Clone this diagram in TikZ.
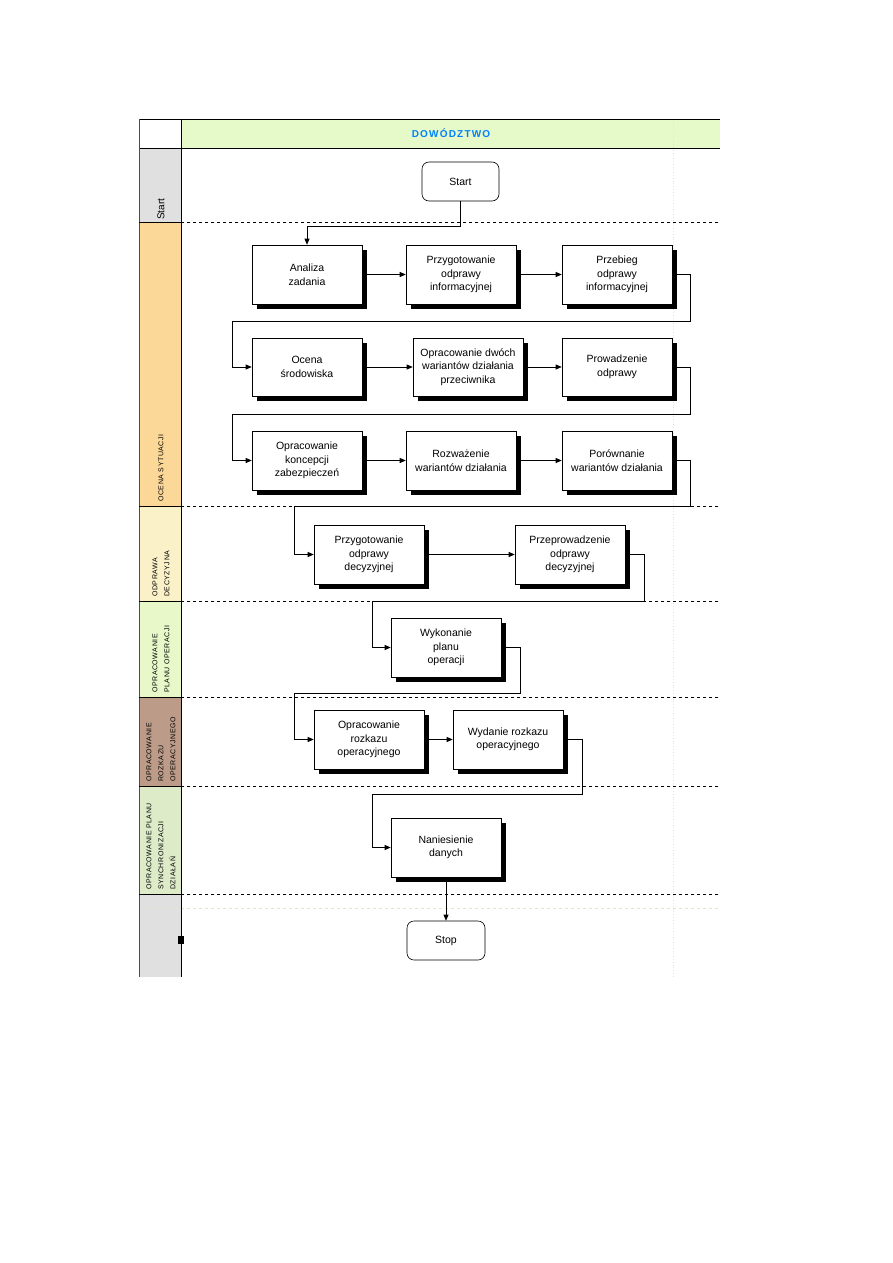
\documentclass[tikz,border=0pt]{standalone}
\usepackage{fontspec}
\setmainfont{Liberation Sans}
\usepackage{tikz}
\usetikzlibrary{calc,positioning,arrows.meta,shadows}

\definecolor{headgreen}{RGB}{230,249,200}
\definecolor{headblue}{RGB}{0,128,255}
\definecolor{lanegray}{RGB}{224,224,224}
\definecolor{laneorange}{RGB}{251,216,152}
\definecolor{laneyellow}{RGB}{251,241,200}
\definecolor{lanegreen}{RGB}{232,248,200}
\definecolor{lanebrown}{RGB}{188,156,136}
\definecolor{lanesage}{RGB}{222,235,200}
\definecolor{gridbeige}{RGB}{232,228,200}

\begin{document}
\begin{tikzpicture}[x=1pt,y=-1pt,
  box/.style={draw, fill=white, line width=0.6pt, minimum width=110pt, minimum height=59pt,
    inner sep=1pt, align=center, font=\fontsize{10.5}{13.5}\selectfont,
    drop shadow={shadow xshift=5pt, shadow yshift=-5pt, fill=black, opacity=1}},
  term/.style={draw, fill=white, line width=0.6pt, rounded corners=7pt,
    minimum width=77pt, minimum height=39pt, font=\fontsize{10.5}{13.5}\selectfont},
  flow/.style={-{Triangle[length=6pt,width=5pt]}, line width=0.7pt},
  sep/.style={dashed, line width=0.7pt},
  lanelabel/.style={rotate=90, anchor=west, align=left, inner sep=0pt,
    font=\fontsize{7}{12}\selectfont\addfontfeatures{LetterSpace=8}}]
\useasboundingbox (0,0) rectangle (893,1263);

\fill [color=headgreen] (181,119) rectangle (720,148);
\fill [color=lanegray] (139,148) rectangle (181,222);
\fill [color=laneorange] (139,222) rectangle (181,506);
\fill [color=laneyellow] (139,506) rectangle (181,601);
\fill [color=lanegreen] (139,601) rectangle (181,697);
\fill [color=lanebrown] (139,697) rectangle (181,786);
\fill [color=lanesage] (139,786) rectangle (181,894);
\fill [color=lanegray] (139,894) rectangle (181,977);

\draw [color=gridbeige, dotted, line width=0.8pt] (673,119) -- (673,977);
\draw [color=gridbeige, dashed, line width=0.6pt] (139,908) -- (720,908);

\draw [line width=0.8pt] (139,119) -- (720,119);
\draw [line width=0.8pt] (139,148) -- (720,148);
\draw [line width=1pt, color=black!70] (139.5,119) -- (139.5,977);
\draw [line width=0.8pt] (181,119) -- (181,977);
\foreach \y in {222,506,601,697,786,894} {
  \draw [line width=0.8pt] (139,\y) -- (181,\y);
  \draw [sep] (181,\y) -- (720,\y);
}
\fill (178,936) rectangle (184,944);

\node [font=\fontsize{10}{12}\selectfont\bfseries\addfontfeatures{LetterSpace=12}, color=headblue] (head) at (451,133.5) {DOWÓDZTWO};

\node [lanelabel, font=\fontsize{10}{12}\selectfont] (lStart) at (161,220) {Start};
\node [lanelabel] (lOcena) at (161,502) {OCENA SYTUACJI};
\node [lanelabel] (lOdprawa) at (161,597) {ODPRAWA\\DECYZYJNA};
\node [lanelabel] (lPlan) at (161,693) {OPRACOWANIE\\PLANU OPERACJI};
\node [lanelabel] (lRozkaz) at (161,782) {OPRACOWANIE\\ROZKAZU\\OPERACYJNEGO};
\node [lanelabel] (lSynch) at (161,890) {OPRACOWANIE PLANU\\SYNCHRONIZACJI\\DZIAŁAŃ};

\node [term] (start) at (460.5,181.5) {Start};
\node [box] (analiza) at (307,274.5) {Analiza\\zadania};
\node [box] (przygInf) at (461,274.5) {Przygotowanie\\odprawy\\informacyjnej};
\node [box] (przebieg) at (617,274.5) {Przebieg\\odprawy\\informacyjnej};
\node [box, minimum height=58pt] (ocena) at (307,367) {Ocena\\środowiska};
\node [box, minimum height=58pt] (warianty) at (468,367) {Opracowanie dwóch\\wariantów działania\\przeciwnika};
\node [box, minimum height=58pt] (prowadzenie) at (617,367) {Prowadzenie\\odprawy};
\node [box] (koncepcja) at (307,460.5) {Opracowanie\\koncepcji\\zabezpieczeń};
\node [box] (rozwazenie) at (461,460.5) {Rozważenie\\wariantów działania};
\node [box] (porownanie) at (617,460.5) {Porównanie\\wariantów działania};
\node [box] (przygDec) at (369,554.5) {Przygotowanie\\odprawy\\decyzyjnej};
\node [box] (przeprDec) at (570,554.5) {Przeprowadzenie\\odprawy\\decyzyjnej};
\node [box] (wykonanie) at (446,647.5) {Wykonanie\\planu\\operacji};
\node [box] (oprRozkazu) at (369,739.5) {Opracowanie\\rozkazu\\operacyjnego};
\node [box] (wydanie) at (508,739.5) {Wydanie rozkazu\\operacyjnego};
\node [box] (naniesienie) at (446,847.5) {Naniesienie\\danych};
\node [term, minimum width=78pt] (stop) at (446,940.5) {Stop};

\draw [flow] (start.south) -- ++(0,25) -| (analiza.north);
\draw [flow] (analiza.east) -- (przygInf.west);
\draw [flow] (przygInf.east) -- (przebieg.west);
\draw [flow] (przebieg.east) -- ++(18,0) |- (232,321) |- (ocena.west);
\draw [flow] (ocena.east) -- (warianty.west);
\draw [flow] (warianty.east) -- (prowadzenie.west);
\draw [flow] (prowadzenie.east) -- ++(18,0) |- (232,414) |- (koncepcja.west);
\draw [flow] (koncepcja.east) -- (rozwazenie.west);
\draw [flow] (rozwazenie.east) -- (porownanie.west);
\draw [flow] (porownanie.east) -- ++(18,0) |- (294,506) |- (przygDec.west);
\draw [flow] (przygDec.east) -- (przeprDec.west);
\draw [flow] (przeprDec.east) -- ++(19,0) |- (372,601) |- (wykonanie.west);
\draw [flow] (wykonanie.east) -- ++(19,0) |- (294,693) |- (oprRozkazu.west);
\draw [flow] (oprRozkazu.east) -- (wydanie.west);
\draw [flow] (wydanie.east) -- ++(19,0) |- (372,794) |- (naniesienie.west);
\draw [flow] (naniesienie.south) -- (stop.north);
\end{tikzpicture}
\end{document}
